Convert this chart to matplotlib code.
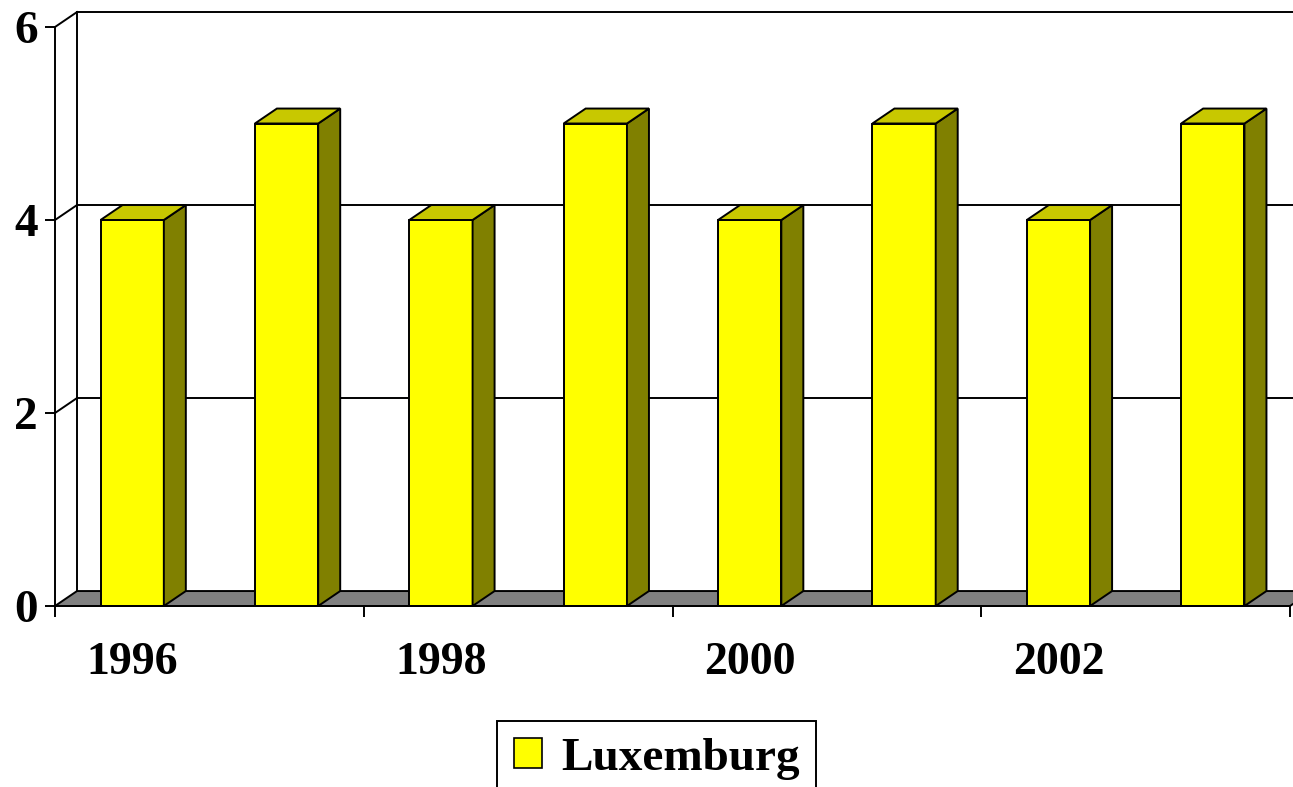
import numpy as np
import matplotlib
matplotlib.use('Agg')
from matplotlib import pyplot as plt
from matplotlib.patches import Polygon, Patch

# data
years = [1996, 1997, 1998, 1999, 2000, 2001, 2002, 2003]
values = [4, 5, 4, 5, 4, 5, 4, 5]
series_name = 'Luxemburg'
yticks = [0, 2, 4, 6]
year_labels = ['1996', '1998', '2000', '2002']

plt.rcParams['font.family'] = 'Liberation Serif'
plt.rcParams['font.weight'] = 'bold'

fig = plt.figure(figsize=(12.93, 7.87), dpi=100)
ax = fig.add_axes([55/1293, 181/787, 1235/1293, 579/787])
ax.set_xlim(0, len(years))
ax.set_ylim(0, 6)

# 3d depth in data units
dx = 0.1425
dy = 0.155
w = 0.41
lw = 1.4
n = len(years)

# floor
ax.add_patch(Polygon([(0, 0), (n, 0), (n + dx, dy), (dx, dy)], closed=True,
                     facecolor='#808080', edgecolor='black', lw=lw, clip_on=False, zorder=1))
# back wall lines
for g in yticks[1:]:
    ax.plot([dx, n + dx], [g + dy, g + dy], color='black', lw=lw, clip_on=False, zorder=1)
    ax.plot([0, dx], [g, g + dy], color='black', lw=lw, clip_on=False, zorder=1)
ax.plot([dx, dx], [dy, 6 + dy], color='black', lw=lw, clip_on=False, zorder=1)

# bars
x = np.arange(n) + 0.5
ax.bar(x, values, width=w, color='#FFFF00', edgecolor='black', lw=lw, zorder=3)
for xi, v in zip(x, values):
    r = xi + w / 2
    l = xi - w / 2
    ax.add_patch(Polygon([(r, 0), (r + dx, dy), (r + dx, v + dy), (r, v)], closed=True,
                         facecolor='#808000', edgecolor='black', lw=lw, clip_on=False, zorder=3))
    ax.add_patch(Polygon([(l, v), (l + dx, v + dy), (r + dx, v + dy), (r, v)], closed=True,
                         facecolor='#C8C800', edgecolor='black', lw=lw, clip_on=False, zorder=3))

for s in ['top', 'right']:
    ax.spines[s].set_visible(False)
for s in ['left', 'bottom']:
    ax.spines[s].set_linewidth(lw)
    ax.spines[s].set_zorder(4)

ax.set_yticks(yticks)
ax.set_yticklabels([str(t) for t in yticks])
ax.tick_params(axis='y', length=7.5, width=lw, pad=5, labelsize=34)

ax.set_xticks(np.arange(0, n + 1, 2))
ax.set_xticklabels([])
ax.tick_params(axis='x', which='major', length=8, width=lw)
ax.set_xticks(x[::2], minor=True)
ax.set_xticklabels(year_labels, minor=True)
ax.tick_params(axis='x', which='minor', length=0, pad=26, labelsize=33)

handle = Patch(facecolor='#FFFF00', edgecolor='black', lw=1.2)
leg = fig.legend([handle], [series_name], loc='upper center', bbox_to_anchor=(656.5/1293, 66/787),
                 fontsize=34, handlelength=0.6, handleheight=0.6, handletextpad=0.4,
                 borderpad=0.35, borderaxespad=0, fancybox=False, framealpha=1, edgecolor='black')
leg.get_frame().set_linewidth(1.4)

fig.savefig('out.png', dpi=100)
